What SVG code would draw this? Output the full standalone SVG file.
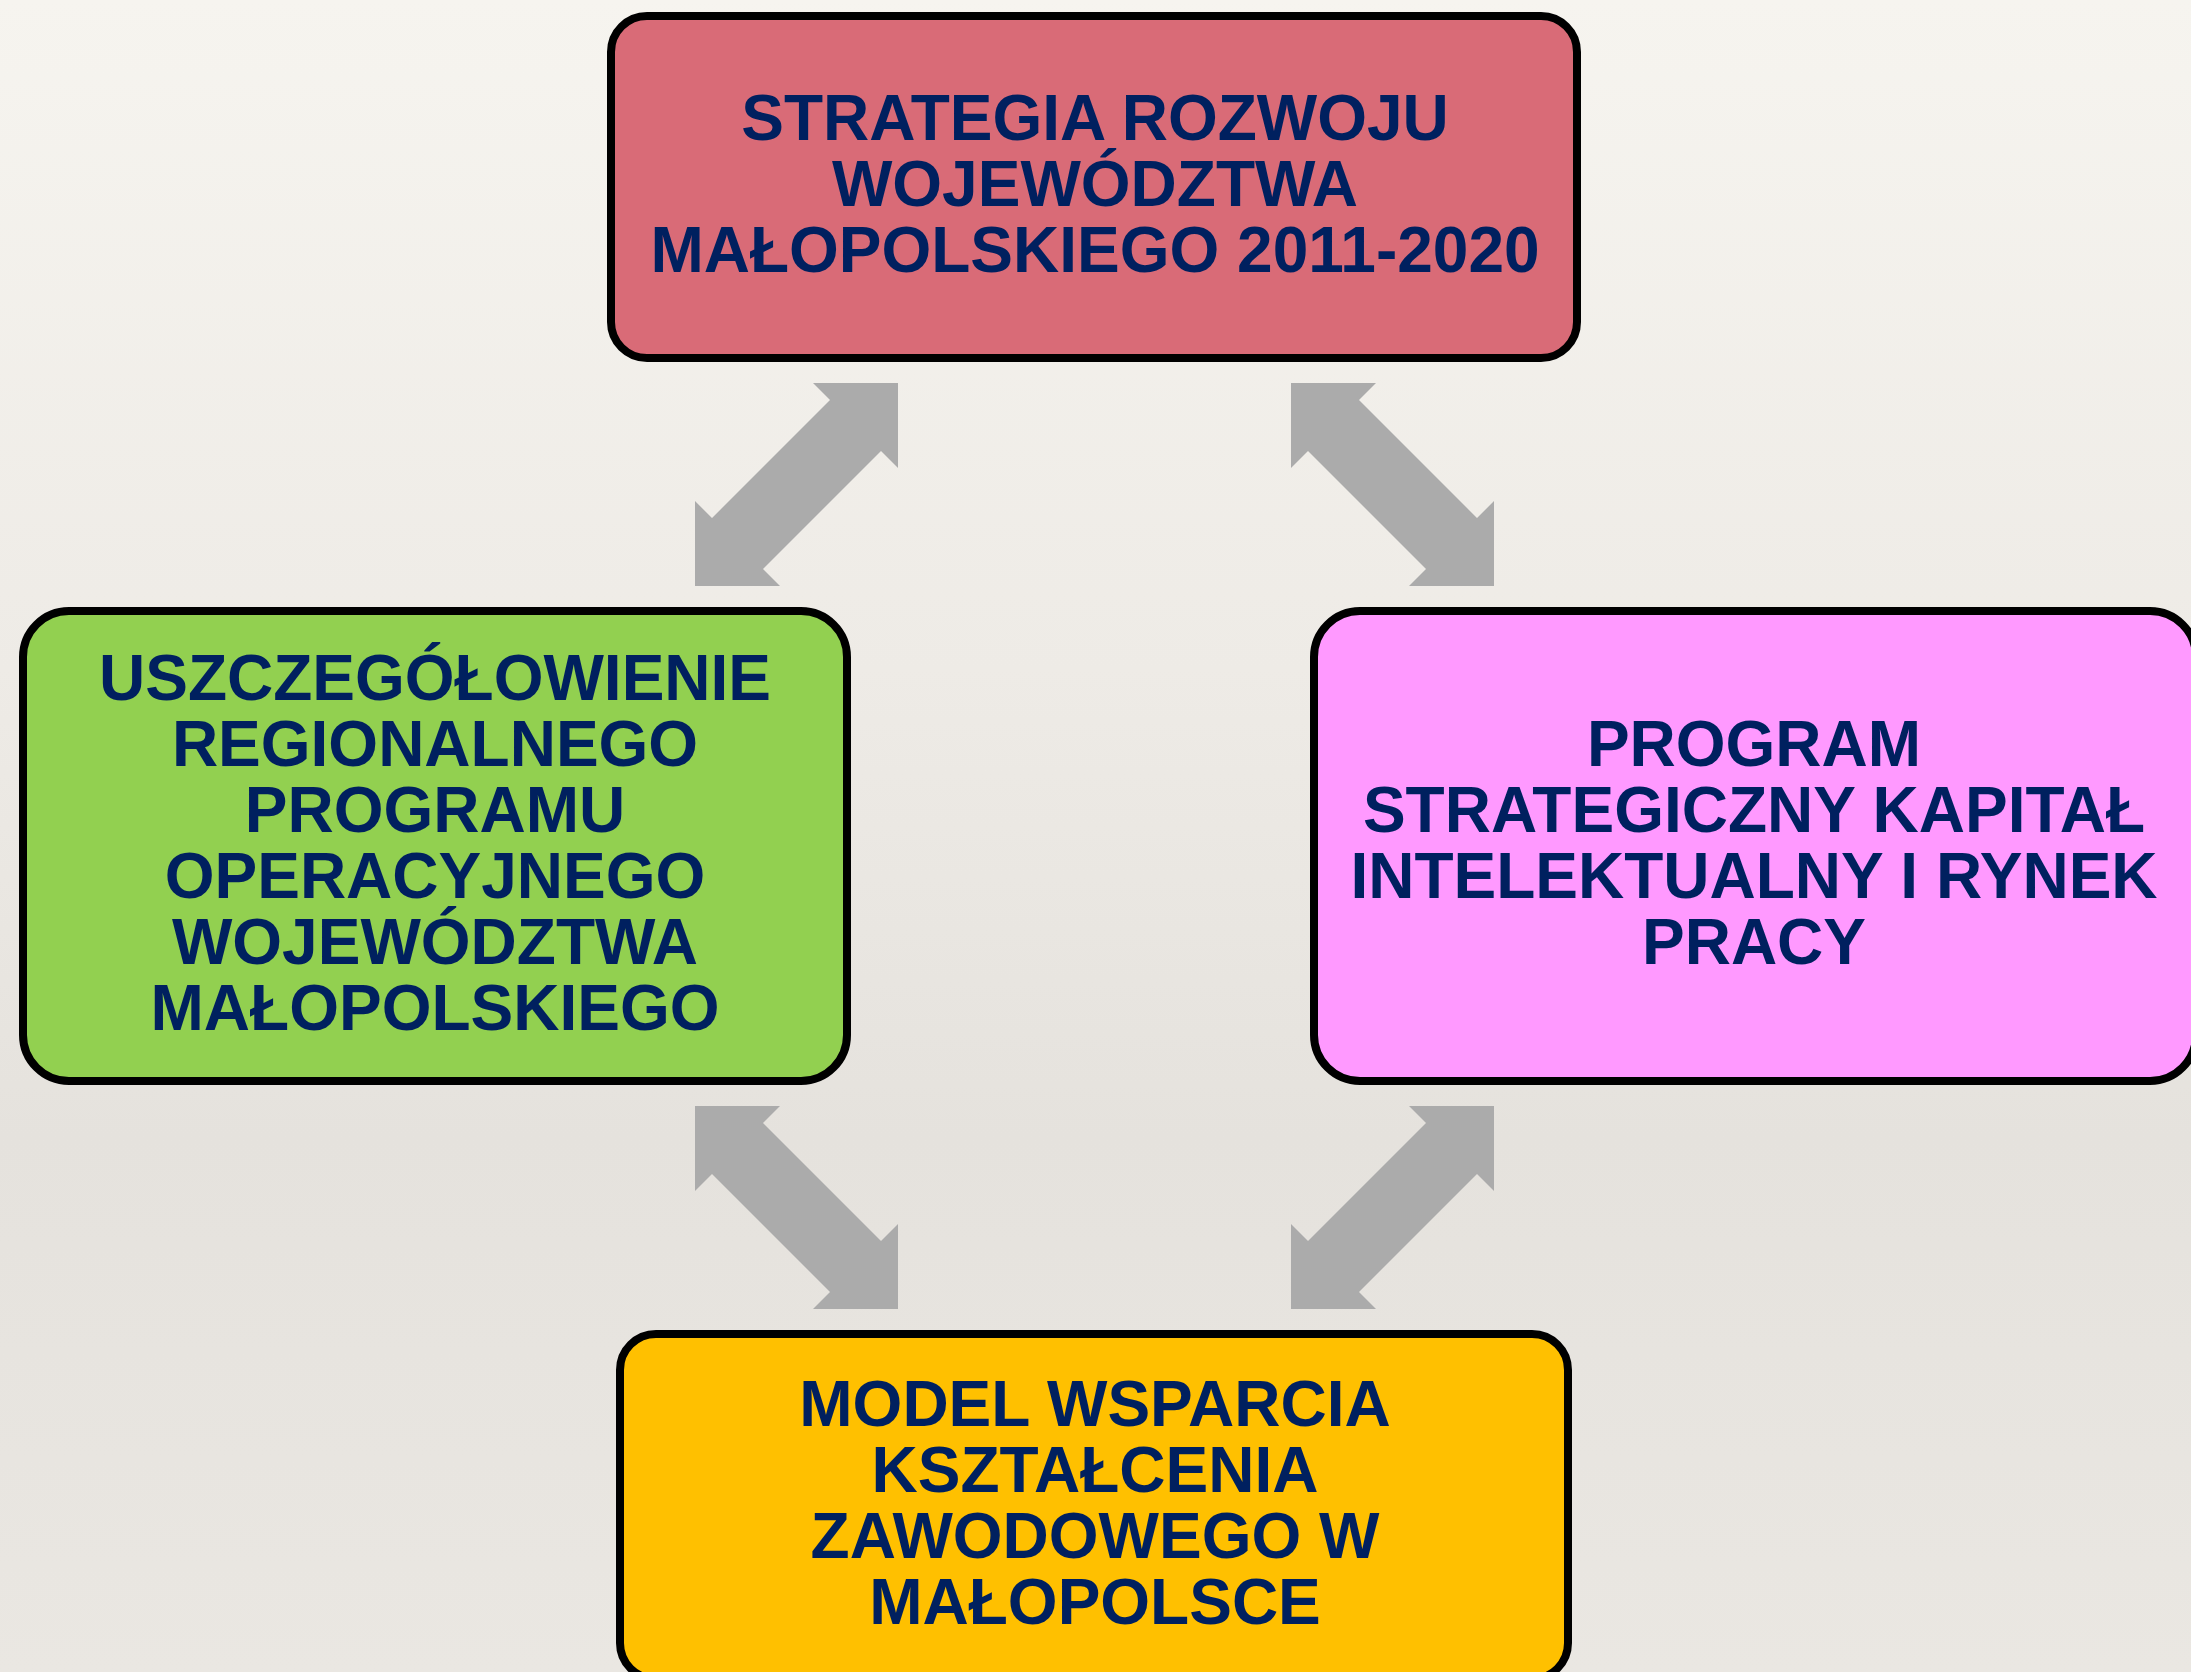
<svg xmlns="http://www.w3.org/2000/svg" xmlns:xlink="http://www.w3.org/1999/xlink" width="2191" height="1672" viewBox="0 0 2191 1672">
<style>
.box{stroke:#000;stroke-width:8}
.t{font-family:"Liberation Sans",Arial,sans-serif;font-weight:bold;font-size:64px;fill:#00205F;text-anchor:middle}
.arr{fill:#ABABAB}
</style>
<defs>
<linearGradient id="bg" x1="0" y1="0" x2="0" y2="1">
<stop offset="0" stop-color="#F6F4EF"/>
<stop offset="0.4" stop-color="#EEEBE6"/>
<stop offset="0.68" stop-color="#E5E2DD"/>
<stop offset="1" stop-color="#EAE7E2"/>
</linearGradient>
<polygon id="dbl" points="203,0 203,85 186,68 68,186 85,203 0,203 0,118 17,135 135,17 118,0"/>
</defs>
<rect width="2191" height="1672" fill="url(#bg)"/>
<g id="connectors">
<use xlink:href="#dbl" class="arr" transform="translate(695,383)"/>
<use xlink:href="#dbl" class="arr" transform="translate(1494,383) scale(-1,1)"/>
<use xlink:href="#dbl" class="arr" transform="translate(898,1106) scale(-1,1)"/>
<use xlink:href="#dbl" class="arr" transform="translate(1291,1106)"/>
</g>
<g id="node-strategia">
<rect class="box" x="611" y="16" width="966" height="342" rx="36" ry="36" fill="#D96B77"/>
<text class="t" x="1095" y="140">STRATEGIA ROZWOJU</text>
<text class="t" x="1095" y="206">WOJEWÓDZTWA</text>
<text class="t" x="1095" y="272">MAŁOPOLSKIEGO 2011-2020</text>
</g>
<g id="node-rpo">
<rect class="box" x="23" y="611" width="824" height="470" rx="46" ry="46" fill="#92D050"/>
<text class="t" x="435" y="700">USZCZEGÓŁOWIENIE</text>
<text class="t" x="435" y="766">REGIONALNEGO</text>
<text class="t" x="435" y="832">PROGRAMU</text>
<text class="t" x="435" y="898">OPERACYJNEGO</text>
<text class="t" x="435" y="964">WOJEWÓDZTWA</text>
<text class="t" x="435" y="1030">MAŁOPOLSKIEGO</text>
</g>
<g id="node-program">
<rect class="box" x="1314" y="611" width="882" height="470" rx="46" ry="46" fill="#FF99FF"/>
<text class="t" x="1754" y="766">PROGRAM</text>
<text class="t" x="1754" y="832">STRATEGICZNY KAPITAŁ</text>
<text class="t" x="1754" y="898">INTELEKTUALNY I RYNEK</text>
<text class="t" x="1754" y="964">PRACY</text>
</g>
<g id="node-model">
<rect class="box" x="620" y="1334" width="948" height="345" rx="36" ry="36" fill="#FFC000"/>
<text class="t" x="1095" y="1426">MODEL WSPARCIA</text>
<text class="t" x="1095" y="1492">KSZTAŁCENIA</text>
<text class="t" x="1095" y="1558">ZAWODOWEGO W</text>
<text class="t" x="1095" y="1624">MAŁOPOLSCE</text>
</g>
</svg>
